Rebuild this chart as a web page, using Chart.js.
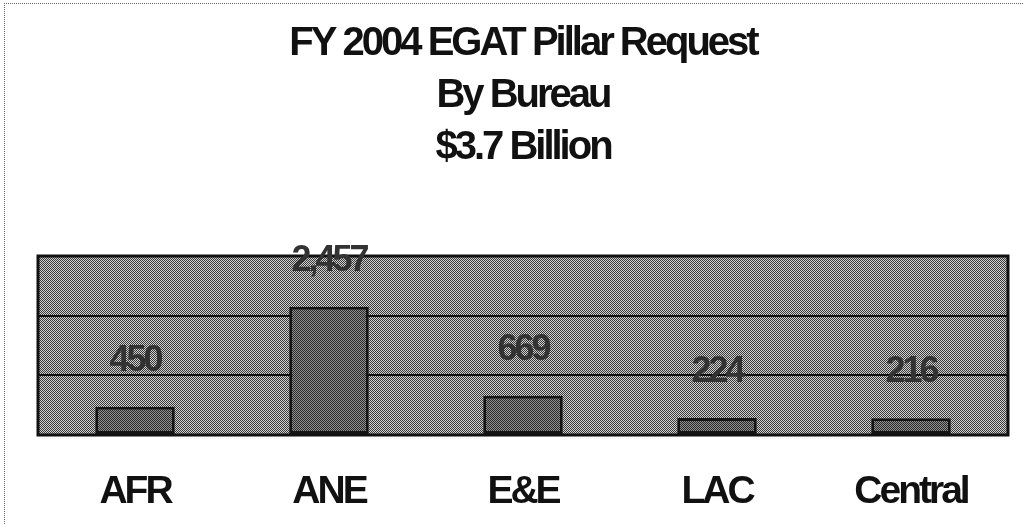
<!DOCTYPE html>
<html>
<head>
<meta charset="utf-8">
<script src="https://cdn.jsdelivr.net/npm/chart.js@4.4.1/dist/chart.umd.min.js"></script>
<style>
  html, body { margin: 0; padding: 0; background: #fff; }
  #wrap { position: relative; width: 1023px; height: 524px; }
  #frame { position: absolute; left: 4px; top: 3px; right: 0; bottom: 0;
           border-top: 1px dotted #666; border-left: 1px dotted #666; pointer-events: none; }
</style>
</head>
<body>
<div id="wrap">
  <canvas id="chart-1" width="1023" height="524"></canvas>
  <div id="frame"></div>
</div>
<script>
// chart data
var titleLines = ["FY 2004 EGAT Pillar Request", "By Bureau", "$3.7 Billion"];
var bureaus = ["AFR", "ANE", "E&E", "LAC", "Central"];
var requests = [450, 2457, 669, 224, 216];
var yTicks = [-120, 1080, 2280, 3480];

const ctx = document.getElementById("chart-1").getContext("2d");

// halftone look of the scanned original
function checker(light, dark) {
    const c = document.createElement("canvas");
    c.width = 2;
    c.height = 2;
    const g = c.getContext("2d");
    g.fillStyle = light;
    g.fillRect(0, 0, 2, 2);
    g.fillStyle = dark;
    g.fillRect(0, 0, 1, 1);
    g.fillRect(1, 1, 1, 1);
    return ctx.createPattern(c, "repeat");
}
const plotFill = checker("#d0d0d0", "#3a3a3a");
const barFill = checker("#909090", "#2a2a2a");

const scanLook = {
    id: "scanLook",
    beforeDraw(chart) {
        const c = chart.ctx;
        c.letterSpacing = "-3px";
        const a = chart.chartArea;
        c.save();
        c.fillStyle = plotFill;
        c.fillRect(a.left, a.top, a.right - a.left, a.bottom - a.top);
        c.restore();
    },
    afterDatasetsDraw(chart) {
        const c = chart.ctx;
        const a = chart.chartArea;
        c.save();
        c.strokeStyle = "#111";
        c.lineWidth = 3;
        c.strokeRect(a.left, a.top, a.right - a.left, a.bottom - a.top);
        // value labels
        c.font = "bold 36px 'Liberation Sans', Arial, sans-serif";
        c.fillStyle = "#333";
        c.textAlign = "center";
        c.textBaseline = "middle";
        chart.getDatasetMeta(0).data.forEach(function(bar, i) {
            c.fillText(requests[i].toLocaleString("en-US"), bar.x, bar.y - 46);
        });
        c.restore();
    }
};

new Chart(ctx, {
    type: "bar",
    data: {
        labels: bureaus,
        datasets: [{
            data: requests,
            base: yTicks[0],
            backgroundColor: barFill,
            borderColor: "#151515",
            borderWidth: 3,
            borderSkipped: false,
            barPercentage: 0.41,
            categoryPercentage: 1.0,
        }],
    },
    options: {
        responsive: false,
        animation: false,
        layout: {
            padding: { left: 38, right: 15, top: 0, bottom: 8 },
        },
        plugins: {
            legend: { display: false },
            tooltip: { enabled: false },
            title: {
                display: true,
                text: titleLines,
                color: "#111",
                font: { family: "'Liberation Sans', Arial, sans-serif", size: 40, weight: "bold", lineHeight: 1.3 },
                padding: { top: 18, bottom: 82 },
            },
        },
        scales: {
            x: {
                grid: { display: false, drawTicks: false },
                border: { display: false },
                afterFit: function(scale) {
                    scale.height = 81;
                },
                ticks: {
                    color: "#111",
                    padding: 34,
                    font: { family: "'Liberation Sans', Arial, sans-serif", size: 39, weight: "bold" },
                },
            },
            y: {
                min: yTicks[0],
                max: yTicks[yTicks.length - 1],
                afterBuildTicks: function(axis) {
                    axis.ticks = yTicks.map(function(v) { return { value: v }; });
                },
                grid: { color: "#111", lineWidth: 2, drawTicks: false },
                border: { display: false },
                ticks: { display: false },
            },
        },
    },
    plugins: [scanLook],
});
</script>
</body>
</html>
